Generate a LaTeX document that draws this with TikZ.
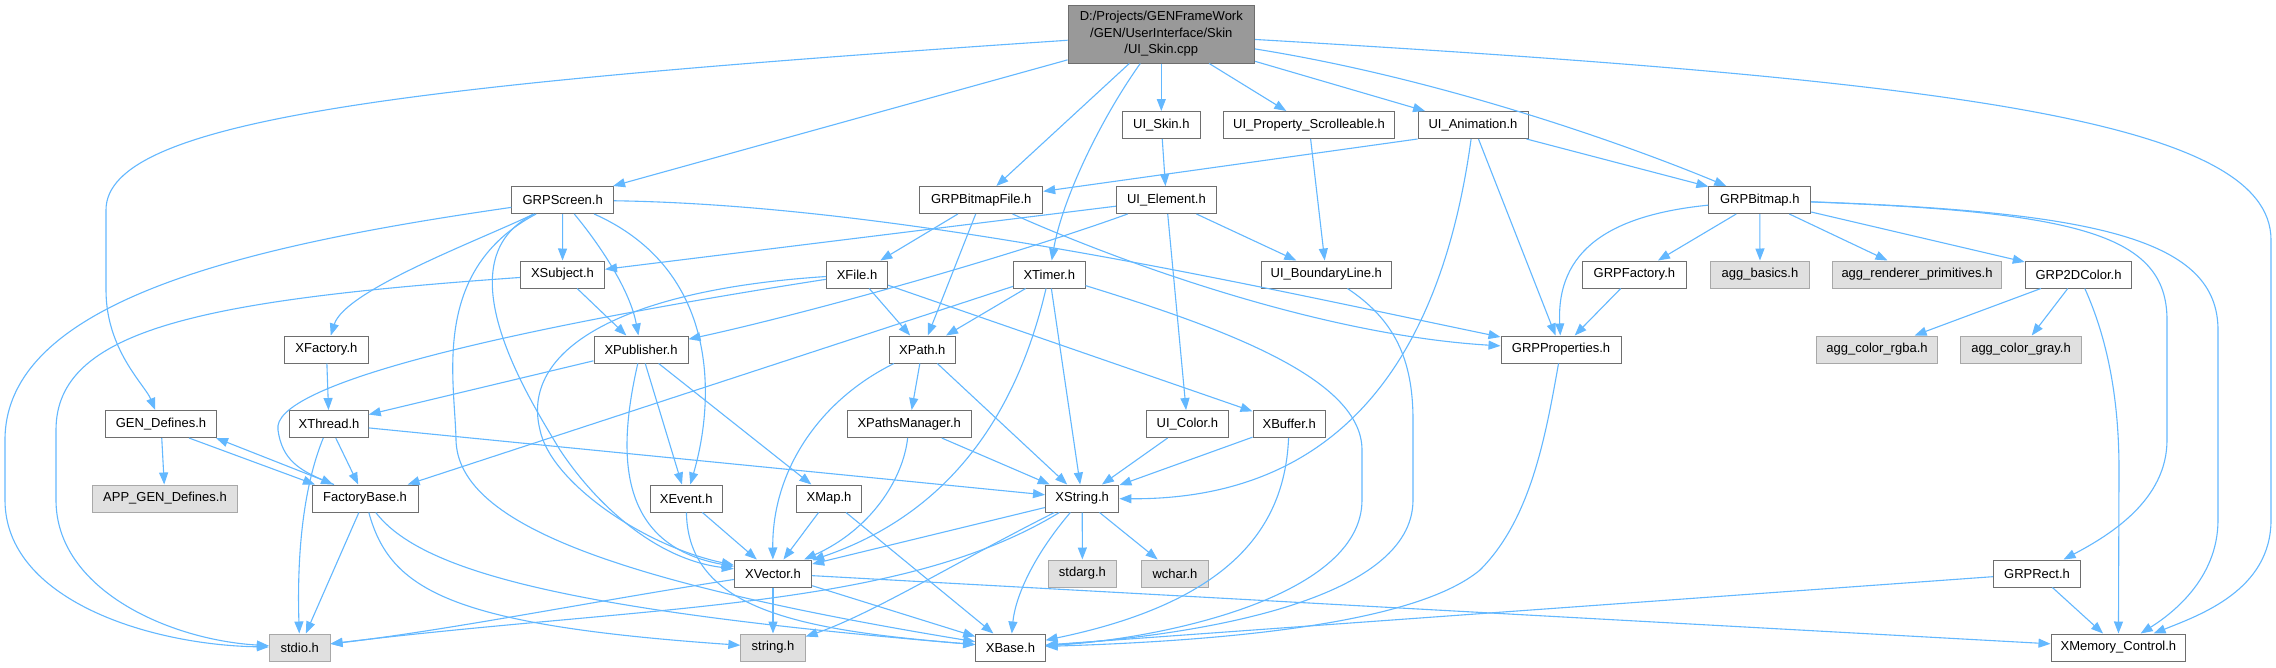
\documentclass[tikz,border=0pt]{standalone}
\usepackage{fontspec}
\setmainfont{Liberation Sans}
\usetikzlibrary{arrows.meta}
\definecolor{depBlue}{HTML}{63B8FF}
\definecolor{boxGray}{HTML}{6E6E6E}
\definecolor{sysGray}{HTML}{A8A8A8}
\definecolor{sysFill}{HTML}{E0E0E0}
\definecolor{srcFill}{HTML}{999999}
\tikzset{
  incFile/.style={rectangle, draw=boxGray, fill=white, line width=1pt, minimum height=27, inner sep=0pt, font=\fontsize{13}{15}\selectfont},
  sysFile/.style={incFile, draw=sysGray, fill=sysFill},
  srcFile/.style={incFile, fill=srcFill, align=center, font=\fontsize{13}{16.5}\selectfont},
  incArr/.style={draw=depBlue, line width=1.1pt, -{Triangle[length=12pt,width=9pt]}},
}
\begin{document}
\begin{tikzpicture}[x=1pt, y=-1pt]
\fill [white] (0,0) rectangle (2276,667);
\useasboundingbox (0,0) rectangle (2276,667);

\node (root) [srcFile, minimum width=186.5, minimum height=58] at (1161.3,34) {D:/Projects/GENFrameWork\\/GEN/UserInterface/Skin\\/UI\_Skin.cpp};

% first level
\node (uiSkin) [incFile, minimum width=77.5] at (1161.3,125) {UI\_Skin.h};
\node (uiProp) [incFile, minimum width=171] at (1309,125) {UI\_Property\_Scrolleable.h};
\node (uiAnim) [incFile, minimum width=110] at (1473,125) {UI\_Animation.h};
\node (grpScreen) [incFile, minimum width=101.8] at (562.7,200) {GRPScreen.h};
\node (grpBmpFile) [incFile, minimum width=123] at (981.2,200) {GRPBitmapFile.h};
\node (uiElem) [incFile, minimum width=100] at (1166.4,200) {UI\_Element.h};
\node (grpBitmap) [incFile, minimum width=101.8] at (1759.8,200) {GRPBitmap.h};

\node (xSubject) [incFile, minimum width=84] at (562.5,274.5) {XSubject.h};
\node (xFile) [incFile, minimum width=61] at (857,274.5) {XFile.h};
\node (xTimer) [incFile, minimum width=71.6] at (1049.3,274.5) {XTimer.h};
\node (uiBound) [incFile, minimum width=130.6] at (1326.3,274.5) {UI\_BoundaryLine.h};
\node (grpFactory) [incFile, minimum width=104] at (1634.4,274.5) {GRPFactory.h};
\node (aggBasics) [sysFile, minimum width=99.2] at (1760,274.5) {agg\_basics.h};
\node (aggRender) [sysFile, minimum width=168.3] at (1917,274.5) {agg\_renderer\_primitives.h};
\node (grp2DColor) [incFile, minimum width=106.5] at (2078.5,274.5) {GRP2DColor.h};

\node (xFactory) [incFile, minimum width=83.6] at (326.4,349.5) {XFactory.h};
\node (xPublisher) [incFile, minimum width=94] at (641,349.5) {XPublisher.h};
\node (xPath) [incFile, minimum width=66] at (922.3,349.5) {XPath.h};
\node (grpProps) [incFile, minimum width=120] at (1561,349.5) {GRPProperties.h};
\node (aggRgba) [sysFile, minimum width=120.3] at (1877,349.5) {agg\_color\_rgba.h};
\node (aggGray) [sysFile, minimum width=120.4] at (2021,349.5) {agg\_color\_gray.h};

\node (genDefs) [incFile, minimum width=110.5] at (161,424) {GEN\_Defines.h};
\node (xThread) [incFile, minimum width=78.5] at (329,424) {XThread.h};
\node (xPathsMgr) [incFile, minimum width=123.6] at (909.2,424) {XPathsManager.h};
\node (uiColor) [incFile, minimum width=81.8] at (1187.4,424) {UI\_Color.h};
\node (xBuffer) [incFile, minimum width=72.4] at (1289.2,424) {XBuffer.h};

\node (appGenDefs) [sysFile, minimum width=144.7] at (165,498.5) {APP\_GEN\_Defines.h};
\node (factoryBase) [incFile, minimum width=106] at (365,498.5) {FactoryBase.h};
\node (xEvent) [incFile, minimum width=71.6] at (686.2,498.5) {XEvent.h};
\node (xMap) [incFile, minimum width=65] at (829,498.5) {XMap.h};
\node (xString) [incFile, minimum width=73.4] at (1082.2,498.5) {XString.h};

\node (xVector) [incFile, minimum width=77.4] at (773,573.5) {XVector.h};
\node (stdargH) [sysFile, minimum width=68] at (1082.4,573.5) {stdarg.h};
\node (wcharH) [sysFile, minimum width=66.2] at (1175,573.5) {wchar.h};
\node (grpRect) [incFile, minimum width=87.3] at (2037,573.5) {GRPRect.h};

% bottom row
\node (stdioH) [sysFile, minimum width=60.7] at (299.7,647.5) {stdio.h};
\node (stringH) [sysFile, minimum width=64.3] at (773,647.5) {string.h};
\node (xBase) [incFile, minimum width=69.4] at (1010.4,647.5) {XBase.h};
\node (xMemCtl) [incFile, minimum width=134.8] at (2118.4,647.5) {XMemory\_Control.h};

% includes of UI_Skin.cpp
\draw [incArr] (root) .. controls (400,85) and (106,120) .. (106,210) -- (106,290) .. controls (106,350) and (145,385) .. (genDefs);
\draw [incArr] (root) -- (grpScreen);
\draw [incArr] (root) -- (grpBmpFile);
\draw [incArr] (root) .. controls (1100,120) and (1062,200) .. (xTimer);
\draw [incArr] (root) -- (uiSkin);
\draw [incArr] (root) -- (uiProp);
\draw [incArr] (root) -- (uiAnim);
\draw [incArr] (root) .. controls (1450,80) and (1640,150) .. (grpBitmap);
\draw [incArr] (root) .. controls (1950,80) and (2271,120) .. (2271,240) -- (2271,520) .. controls (2271,590) and (2200,615) .. (xMemCtl);

\draw [incArr] (uiSkin) -- (uiElem);
\draw [incArr] (uiProp) -- (uiBound);
\draw [incArr] (uiAnim.south west) -- (grpBmpFile);
\draw [incArr] (uiAnim) -- (grpBitmap);
\draw [incArr] (uiAnim) -- (grpProps);
\draw [incArr] (uiAnim) .. controls (1445,330) and (1360,500) .. (xString);
\draw [incArr] (uiElem) -- (uiBound);
\draw [incArr] (uiElem) -- (uiColor);
\draw [incArr] (uiElem) -- (xSubject);
\draw [incArr] (uiElem) .. controls (1000,260) and (800,315) .. (xPublisher);
\draw [incArr] (uiBound) .. controls (1395,320) and (1413,360) .. (1413,420) -- (1413,500) .. controls (1413,600) and (1200,635) .. (xBase);
\draw [incArr] (uiColor) -- (xString);

\draw [incArr] (grpScreen) -- (xSubject);
\draw [incArr] (grpScreen) .. controls (600,245) and (630,290) .. (xPublisher);
\draw [incArr] (grpScreen) .. controls (480,240) and (345,290) .. (xFactory);
\draw [incArr] (grpScreen) .. controls (720,270) and (715,400) .. (xEvent);
\draw [incArr] (grpScreen) .. controls (440,260) and (530,400) .. (560,450) .. controls (600,510) and (660,560) .. (xVector);
\draw [incArr] (grpScreen) .. controls (430,270) and (455,380) .. (456,440) .. controls (458,520) and (600,580) .. (xBase);
\draw [incArr] (grpScreen) .. controls (250,245) and (5,300) .. (5,440) -- (5,500) .. controls (5,600) and (150,645) .. (stdioH);
\draw [incArr] (grpScreen) .. controls (900,205) and (1250,285) .. (grpProps);

\draw [incArr] (grpBmpFile) -- (xFile);
\draw [incArr] (grpBmpFile) -- (xPath);
\draw [incArr] (grpBmpFile) .. controls (1120,262) and (1320,335) .. (grpProps);
\draw [incArr] (grpBitmap) -- (grpFactory);
\draw [incArr] (grpBitmap) -- (aggBasics);
\draw [incArr] (grpBitmap) -- (aggRender);
\draw [incArr] (grpBitmap) -- (grp2DColor);
\draw [incArr] (grpBitmap) .. controls (1610,215) and (1556,250) .. (grpProps);
\draw [incArr] (grpBitmap) .. controls (2080,212) and (2167,235) .. (2167,320) -- (2167,440) .. controls (2167,500) and (2110,535) .. (grpRect);
\draw [incArr] (grpBitmap) .. controls (2100,212) and (2218,240) .. (2218,330) -- (2218,520) .. controls (2218,580) and (2170,615) .. (xMemCtl);

\draw [incArr] (xSubject) -- (xPublisher);
\draw [incArr] (xSubject) .. controls (200,300) and (56,330) .. (56,430) -- (56,500) .. controls (56,590) and (170,640) .. (stdioH);
\draw [incArr] (xFile) -- (xPath);
\draw [incArr] (xFile) -- (xBuffer);
\draw [incArr] (xFile) .. controls (620,290) and (520,350) .. (540,430) .. controls (550,480) and (640,545) .. (xVector);
\draw [incArr] (xFile) .. controls (500,330) and (270,385) .. (278,430) .. controls (282,460) and (300,470) .. (factoryBase);
\draw [incArr] (xTimer) -- (xPath);
\draw [incArr] (xTimer) -- (factoryBase);
\draw [incArr] (xTimer) -- (xString);
\draw [incArr] (xTimer) .. controls (1020,400) and (960,510) .. (xVector);
\draw [incArr] (xTimer) .. controls (1230,330) and (1362,380) .. (1362,450) -- (1362,500) .. controls (1362,600) and (1150,640) .. (xBase);
\draw [incArr] (grpFactory) -- (grpProps);
\draw [incArr] (grp2DColor) -- (aggRgba);
\draw [incArr] (grp2DColor) -- (aggGray);
\draw [incArr] (grp2DColor) .. controls (2108,340) and (2119,400) .. (2119,470) -- (xMemCtl);

\draw [incArr] (xFactory) -- (xThread);
\draw [incArr] (xPublisher) -- (xThread);
\draw [incArr] (xPublisher) -- (xEvent);
\draw [incArr] (xPublisher) -- (xMap);
\draw [incArr] (xPublisher) .. controls (618,450) and (615,545) .. (xVector);
\draw [incArr] (xPath) -- (xPathsMgr);
\draw [incArr] (xPath) -- (xString);
\draw [incArr] (xPath) .. controls (820,400) and (772,470) .. (xVector);
\draw [incArr] (grpProps) .. controls (1545,440) and (1530,520) .. (1480,570) .. controls (1420,620) and (1250,640) .. (xBase);

\draw [incArr] (genDefs) -- (appGenDefs);
\draw [incArr] ([xshift=28]genDefs.south) -- ([xshift=-50]factoryBase.north);
\draw [incArr] ([xshift=-31]factoryBase.north) -- ([xshift=55]genDefs.south);
\draw [incArr] (xThread) -- (factoryBase);
\draw [incArr] (xThread) -- (xString);
\draw [incArr] (xThread) .. controls (302,490) and (297,560) .. (stdioH);
\draw [incArr] (xPathsMgr) -- (xString);
\draw [incArr] (xPathsMgr) .. controls (903,480) and (870,530) .. (xVector);
\draw [incArr] (xBuffer) -- (xString);
\draw [incArr] (xBuffer) .. controls (1285,520) and (1240,600) .. (xBase);

\draw [incArr] (factoryBase) -- (stdioH);
\draw [incArr] (factoryBase) .. controls (390,590) and (450,625) .. (stringH);
\draw [incArr] (factoryBase) .. controls (420,570) and (560,610) .. (xBase);
\draw [incArr] (xEvent) -- (xVector);
\draw [incArr] (xEvent) .. controls (688,610) and (800,630) .. (xBase);
\draw [incArr] (xMap) -- (xVector);
\draw [incArr] (xMap) -- (xBase);
\draw [incArr] (xString) -- (xVector);
\draw [incArr] (xString) -- (stdargH);
\draw [incArr] (xString) -- (wcharH);
\draw [incArr] (xString) .. controls (1030,560) and (1015,600) .. (xBase);
\draw [incArr] (xString) .. controls (960,560) and (870,615) .. (stringH);
\draw [incArr] (xString) .. controls (900,610) and (650,605) .. (stdioH);

\draw [incArr] (xVector) .. controls (600,600) and (450,630) .. (stdioH);
\draw [incArr] (xVector) -- (stringH);
\draw [incArr] (xVector) -- (xBase);
\draw [incArr] (xVector) -- (xMemCtl);
\draw [incArr] (grpRect) -- (xBase);
\draw [incArr] (grpRect) -- (xMemCtl);
\end{tikzpicture}
\end{document}
